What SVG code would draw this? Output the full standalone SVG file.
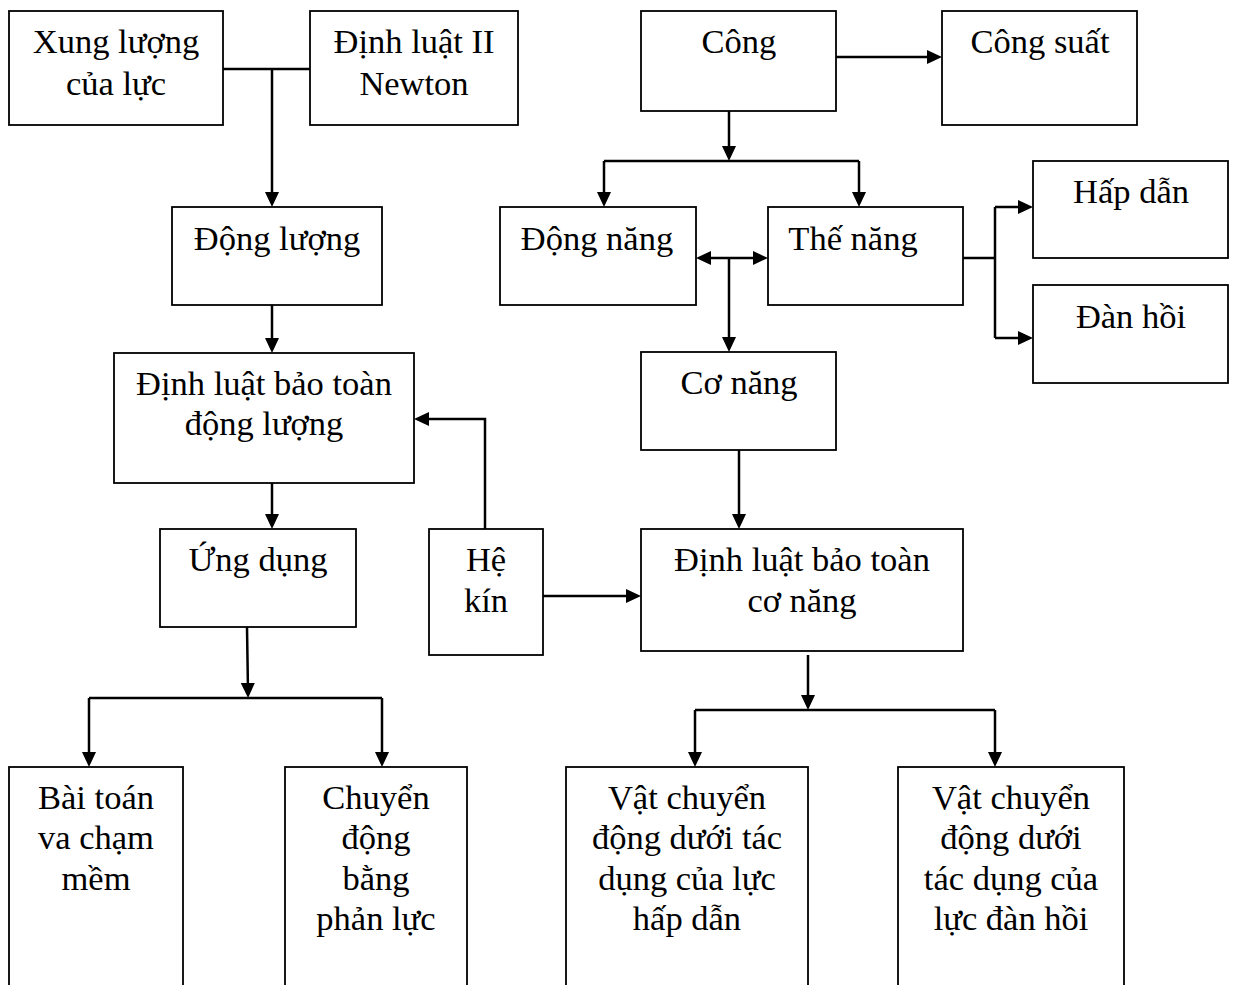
<svg xmlns="http://www.w3.org/2000/svg" width="1237" height="985" viewBox="0 0 1237 985">
<style>
.box{fill:#fff;stroke:#000;stroke-width:1.8}
.t{font-family:"Liberation Serif","Times New Roman",serif;font-size:34.5px;fill:#000;text-anchor:middle}
.c{fill:none;stroke:#000;stroke-width:2.5}
.a{marker-end:url(#ae)}
</style>
<defs>
<marker id="ae" markerUnits="userSpaceOnUse" markerWidth="15" markerHeight="14" refX="9" refY="7" orient="auto" viewBox="0 0 15 14"><path d="M0,0 L15,7 L0,14 z" fill="#000"/></marker>
<marker id="as" markerUnits="userSpaceOnUse" markerWidth="15" markerHeight="14" refX="6" refY="7" orient="auto" viewBox="0 0 15 14"><path d="M15,0 L0,7 L15,14 z" fill="#000"/></marker>
</defs>
<rect width="1237" height="985" fill="#fff"/>
<g id="connectors">
<path class="c" d="M223,69 H310"/>
<path class="c a" d="M272,69 V201"/>
<path class="c a" d="M272,305 V347"/>
<path class="c a" d="M272,483 V523"/>
<path class="c a" d="M247,627 L248,692"/>
<path class="c" d="M89,698 H382"/>
<path class="c a" d="M89,698 V761"/>
<path class="c a" d="M382,698 V761"/>
<path class="c a" d="M485,529 V419 H420"/>
<path class="c a" d="M543,596 H635"/>
<path class="c a" d="M836,57 H936"/>
<path class="c a" d="M729,111 V155"/>
<path class="c" d="M604,161 H859"/>
<path class="c a" d="M604,161 V201"/>
<path class="c a" d="M859,161 V201"/>
<path class="c" d="M702,258 H762" marker-start="url(#as)" marker-end="url(#ae)"/>
<path class="c a" d="M729,258 V346"/>
<path class="c" d="M963,258 H995 M995,207 V338"/>
<path class="c a" d="M995,207 H1027"/>
<path class="c a" d="M995,338 H1027"/>
<path class="c a" d="M739,450 V523"/>
<path class="c a" d="M808,655 V704"/>
<path class="c" d="M695,710 H995"/>
<path class="c a" d="M695,710 V761"/>
<path class="c a" d="M995,710 V761"/>
</g>
<g id="n-xung"><rect class="box" x="9" y="11" width="214" height="114"/><text class="t" x="116" y="53">Xung lượng</text><text class="t" x="116" y="95">của lực</text></g>
<g id="n-newton"><rect class="box" x="310" y="11" width="208" height="114"/><text class="t" x="414" y="53">Định luật II</text><text class="t" x="414" y="95">Newton</text></g>
<g id="n-cong"><rect class="box" x="641" y="11" width="195" height="100"/><text class="t" x="739" y="53">Công</text></g>
<g id="n-congsuat"><rect class="box" x="942" y="11" width="195" height="114"/><text class="t" x="1040" y="53">Công suất</text></g>
<g id="n-donglung"><rect class="box" x="172" y="207" width="210" height="98"/><text class="t" x="277" y="250">Động lượng</text></g>
<g id="n-dongnang"><rect class="box" x="500" y="207" width="196" height="98"/><text class="t" x="597" y="250">Động năng</text></g>
<g id="n-thenang"><rect class="box" x="768" y="207" width="195" height="98"/><text class="t" x="853" y="250">Thế năng</text></g>
<g id="n-hapdan"><rect class="box" x="1033" y="161" width="195" height="97"/><text class="t" x="1131" y="203">Hấp dẫn</text></g>
<g id="n-danhoi"><rect class="box" x="1033" y="285" width="195" height="98"/><text class="t" x="1131" y="328">Đàn hồi</text></g>
<g id="n-conang"><rect class="box" x="641" y="352" width="195" height="98"/><text class="t" x="739" y="394">Cơ năng</text></g>
<g id="n-dlbtdl"><rect class="box" x="114" y="353" width="300" height="130"/><text class="t" x="264" y="395">Định luật bảo toàn</text><text class="t" x="264" y="435">động lượng</text></g>
<g id="n-ungdung"><rect class="box" x="160" y="529" width="196" height="98"/><text class="t" x="258" y="571">Ứng dụng</text></g>
<g id="n-hekin"><rect class="box" x="429" y="529" width="114" height="126"/><text class="t" x="486" y="571">Hệ</text><text class="t" x="486" y="612">kín</text></g>
<g id="n-dlbtcn"><rect class="box" x="641" y="529" width="322" height="122"/><text class="t" x="802" y="571">Định luật bảo toàn</text><text class="t" x="802" y="612">cơ năng</text></g>
<g id="n-baitoan"><rect class="box" x="9" y="767" width="174" height="222"/><text class="t" x="96" y="809">Bài toán</text><text class="t" x="96" y="849">va chạm</text><text class="t" x="96" y="890">mềm</text></g>
<g id="n-phanluc"><rect class="box" x="285" y="767" width="182" height="222"/><text class="t" x="376" y="809">Chuyển</text><text class="t" x="376" y="849">động</text><text class="t" x="376" y="890">bằng</text><text class="t" x="376" y="930">phản lực</text></g>
<g id="n-vat1"><rect class="box" x="566" y="767" width="242" height="222"/><text class="t" x="687" y="809">Vật chuyển</text><text class="t" x="687" y="849">động dưới tác</text><text class="t" x="687" y="890">dụng của lực</text><text class="t" x="687" y="930">hấp dẫn</text></g>
<g id="n-vat2"><rect class="box" x="898" y="767" width="226" height="222"/><text class="t" x="1011" y="809">Vật chuyển</text><text class="t" x="1011" y="849">động dưới</text><text class="t" x="1011" y="890">tác dụng của</text><text class="t" x="1011" y="930">lực đàn hồi</text></g>
</svg>
